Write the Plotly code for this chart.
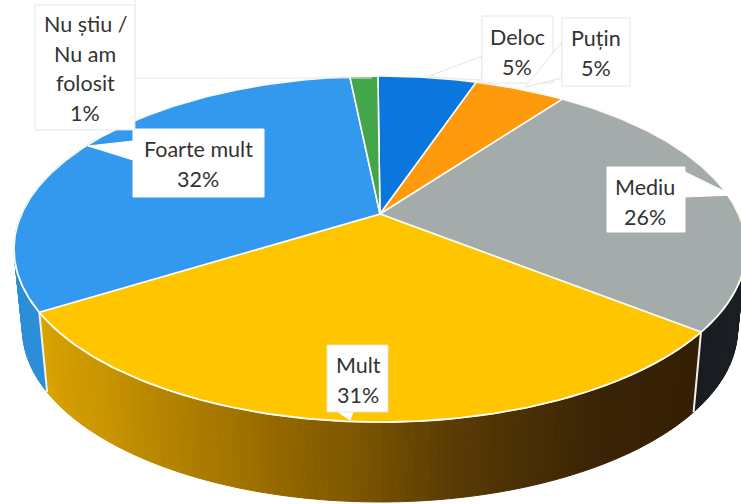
import numpy as np
import plotly.graph_objects as go

# ---- data ----
categories = ["Deloc", "Puțin", "Mediu", "Mult", "Foarte mult", "Nu știu /<br>Nu am<br>folosit"]
slice_shares = [5.3, 4.9, 25.6, 30.45, 32.25, 1.5]
percent_labels = ["5%", "5%", "26%", "31%", "32%", "1%"]

# ---- styling ----
top_colors = ["#0b76dd", "#ff9a0c", "#a4acab", "#ffc600", "#3399ee", "#43a64a"]
# stops run along the wall from its right-hand end to its left-hand end
wall_colors = {2: [(0, (31, 35, 40)), (1, (24, 28, 33))],
               3: [(0.00, (52, 30, 4)), (0.20, (58, 36, 5)), (0.38, (88, 58, 4)),
                   (0.50, (125, 86, 0)), (0.66, (165, 118, 0)), (0.84, (200, 148, 0)), (1.00, (218, 163, 0))],
               4: [(0, (42, 143, 216)), (1, (42, 143, 216))]}

# projection of the tilted disc on to the page
CX, CY, A, B, K = 380.0, 214.0, 358.4, 165.9, 0.2023
START, DEPTH, SHRINK = -0.4, 80.0, 0.977


def rim(deg, lower=False):
    t = np.radians(np.asarray(deg, dtype=float) + START)
    u, v = np.sin(t), np.cos(t)
    d = 1 + K * v
    x, y = A * u / d, -B * v / d
    if lower:
        return CX + x * SHRINK, CY + y + DEPTH
    return CX + x, CY + y


def lerp(stops, f):
    for (f0, c0), (f1, c1) in zip(stops, stops[1:]):
        if f <= f1:
            w = (f - f0) / (f1 - f0)
            return "rgb(%d,%d,%d)" % tuple(round(a + (b - a) * w) for a, b in zip(c0, c1))
    return "rgb(%d,%d,%d)" % stops[-1][1]


edges = np.concatenate([[0], np.cumsum(slice_shares)]) * 3.6
fig = go.Figure()


def poly(x, y, fill, line=None, width=0):
    fig.add_trace(go.Scatter(x=x, y=y, mode="lines", fill="toself" if fill else None,
                             fillcolor=fill, hoverinfo="skip", showlegend=False,
                             line=dict(color=line or "rgba(0,0,0,0)", width=width)))


# side wall, as narrow strips so the shading can run along it
for i, stops in wall_colors.items():
    a0, a1 = edges[i], edges[i + 1]
    if i == 2:
        a0 = max(a0, 90)
    if i == 4:
        a1 = min(a1, 300)
    n = max(int(a1 - a0), 1)
    steps = np.linspace(a0, a1, n + 1)
    for j in range(n):
        mid = np.array([steps[j], steps[j + 1]])
        xt, yt = rim(mid)
        xb, yb = rim(mid, True)
        c = lerp(stops, (j + 0.5) / n)
        poly(list(xt) + list(xb[::-1]) + [xt[0]], list(yt) + list(yb[::-1]) + [yt[0]], c, c, 1)

# white edges between the wall sections
for e in (edges[3], edges[4]):
    xt, yt = rim([e])
    xb, yb = rim([e], True)
    poly([xt[0], xb[0]], [yt[0], yb[0]], None, "#f4f2e8", 2)

# white highlight on the front rim
arc = np.linspace(edges[2] - 50, edges[4] + 25, 240)
xa, ya = rim(arc)
poly(xa, ya, None, "#fffbe8", 2)

# top face
for i, col in enumerate(top_colors):
    arc = np.linspace(edges[i], edges[i + 1], max(int(slice_shares[i] * 8), 6))
    xa, ya = rim(arc)
    poly([CX] + list(xa) + [CX], [CY] + list(ya) + [CY], col, "#fbfbf6", 1.6)

# ---- label boxes and pointers (page positions) ----
BOX = "rgba(226,226,226,0.9)"
boxes = [
    ("M135,0 L135,78 L372,78", None, "#e9e9e9"),
    ("M482,56 L427,77 L482,80 Z", "white", "#e4e4e4"),
    ("M482,16 L553,16 L553,83 L482,83 Z", "white", BOX),
    ("M562,42 L525,87 L562,78 Z", "white", "#e4e4e4"),
    ("M562,18 L630,18 L630,86 L562,86 Z", "white", BOX),
    ("M685,172 L732,195 L685,197 Z", "white", "white"),
    ("M607,167 L685,167 L685,232 L607,232 Z", "white", "white"),
    ("M133,141 L88,146 L133,160 Z", "white", "white"),
    ("M133,129 L264,129 L264,197 L133,197 Z", "white", "white"),
    ("M35,5 L135,5 L135,130 L35,130 Z", "white", BOX),
    ("M338,412 L350,420 L353,412 Z", "white", "white"),
    ("M327,345 L388,345 L388,412 L327,412 Z", "white", BOX),
]
shapes = [dict(type="path", path=p, fillcolor=f or "rgba(0,0,0,0)", line=dict(color=c, width=1),
               layer="above") for p, f, c in boxes]

# ---- label text ----
label_anchor = [(517, 37), (596, 38), (645, 187), (358, 365), (198, 149), (85, 24)]
LINE_GAP = 29.5
annotations = []
for name, pct, (lx, ly) in zip(categories, percent_labels, label_anchor):
    for k, line in enumerate(name.split("<br>") + [pct]):
        annotations.append(dict(x=lx, y=ly + k * LINE_GAP, text=line, showarrow=False,
                                xanchor="center", yanchor="middle", xref="x", yref="y",
                                font=dict(family="Lato", size=21.5, color="#333333")))

fig.update_layout(
    width=741, height=504, margin=dict(l=0, r=0, t=0, b=0),
    paper_bgcolor="white", plot_bgcolor="white", showlegend=False,
    xaxis=dict(range=[0, 741], visible=False, fixedrange=True),
    yaxis=dict(range=[504, 0], visible=False, fixedrange=True),
    shapes=shapes, annotations=annotations,
)
fig.write_html("out.html", config=dict(displayModeBar=False),
               post_script="document.body.style.margin='0';")
